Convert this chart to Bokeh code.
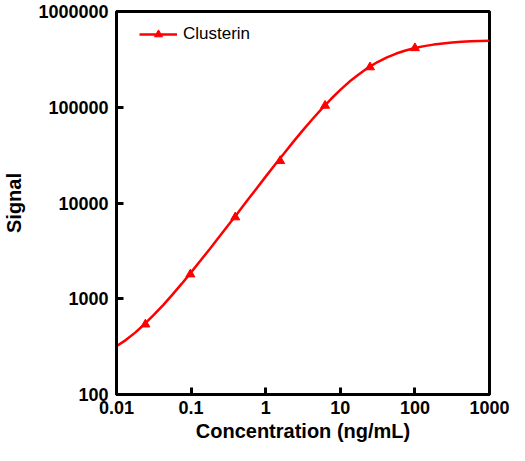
from bokeh.plotting import figure
from bokeh.models import Range1d, FixedTicker, CustomJSTickFormatter
from bokeh.embed import file_html
from bokeh.resources import INLINE

# Measured standards (triangles)
conc = [0.0244, 0.0977, 0.391, 1.5625, 6.25, 25, 100]
signal = [540, 1800, 7100, 27500, 104000, 262000, 415000]

# Fitted curve (8 points per decade)
curve_x = [0.01, 0.0133, 0.0178, 0.0237, 0.0316, 0.0422, 0.0562, 0.075,
           0.1, 0.133, 0.178, 0.237, 0.316, 0.422, 0.562, 0.75,
           1, 1.33, 1.78, 2.37, 3.16, 4.22, 5.62, 7.5,
           10, 13.3, 17.8, 23.7, 31.6, 42.2, 56.2, 75,
           100, 133, 178, 237, 316, 422, 562, 750, 1000]
curve_y = [320, 370, 443, 542, 677, 859, 1105, 1437,
           1886, 2492, 3309, 4411, 5893, 7883, 10550, 14110,
           18850, 25110, 33340, 44000, 57690, 74950, 96260, 121900,
           151800, 185500, 221500, 259500, 296700, 331800, 363800, 391500,
           415100, 434800, 451000, 464000, 474000, 482000, 488000, 492500, 496000]

x_ticks = [0.01, 0.1, 1, 10, 100, 1000]
y_ticks = [100, 1000, 10000, 100000, 1000000]

p = figure(width=509, height=445, x_axis_type="log", y_axis_type="log",
           x_range=Range1d(0.01, 1000), y_range=Range1d(100, 1000000),
           output_backend="svg", toolbar_location=None,
           min_border_left=103, min_border_right=20, min_border_top=11, min_border_bottom=51)

p.grid.visible = False
p.outline_line_color = "black"
p.outline_line_width = 3
p.background_fill_color = "white"
p.border_fill_color = "white"

fmt = CustomJSTickFormatter(code="return tick.toString();")
for ax, ticks in ((p.xaxis[0], x_ticks), (p.yaxis[0], y_ticks)):
    ax.ticker = FixedTicker(ticks=ticks, minor_ticks=[])
    ax.formatter = fmt
    ax.axis_line_width = 3
    ax.axis_line_color = "black"
    ax.major_tick_line_width = 3
    ax.major_tick_in = 7
    ax.major_tick_out = 0
    ax.minor_tick_in = 0
    ax.minor_tick_out = 0
    ax.major_label_text_font = "Liberation Sans"
    ax.major_label_text_font_style = "bold"
    ax.major_label_text_font_size = "18px"
    ax.major_label_text_color = "black"
    ax.axis_label_text_font = "Liberation Sans"
    ax.axis_label_text_font_style = "bold"
    ax.axis_label_text_font_size = "20px"
    ax.axis_label_text_color = "black"

p.xaxis.axis_label = "Concentration (ng/mL)"
p.yaxis.axis_label = "Signal"
p.xaxis.major_label_standoff = 6
p.xaxis.axis_label_standoff = 3
p.yaxis.major_label_standoff = 8
p.yaxis.axis_label_standoff = 10

p.line(curve_x, curve_y, line_color="#ff0000", line_width=2.5, legend_label="Clusterin")
p.scatter(conc, signal, marker="triangle", size=9, fill_color="#ff0000",
          line_color="#ff0000", legend_label="Clusterin")

lg = p.legend[0]
lg.location = (23, 350)
lg.margin = 0
lg.padding = 0
lg.glyph_width = 38
lg.glyph_height = 20
lg.label_standoff = 6
lg.label_text_font = "Liberation Sans"
lg.label_text_font_size = "17px"
lg.label_text_color = "black"
lg.border_line_alpha = 0
lg.background_fill_alpha = 0

open("out.html", "w").write(file_html(p, INLINE))
